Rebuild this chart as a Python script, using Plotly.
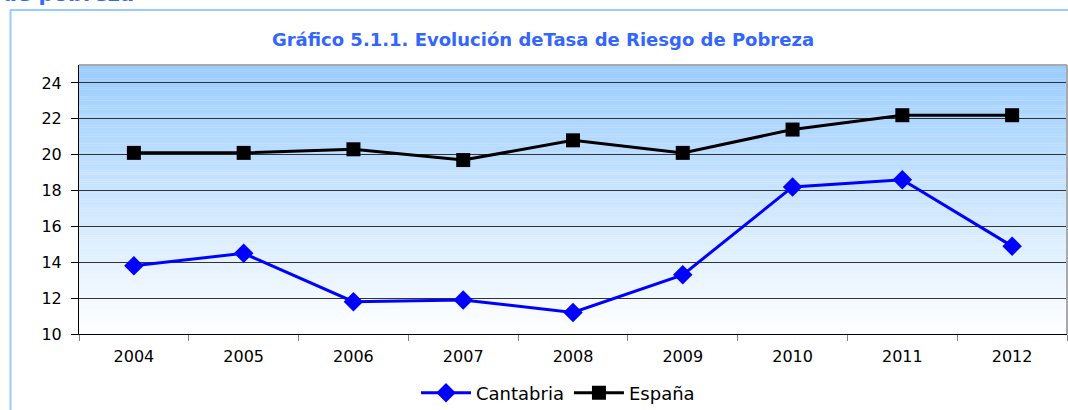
import plotly.graph_objects as go

years = ["2004", "2005", "2006", "2007", "2008", "2009", "2010", "2011", "2012"]
cantabria = [13.8, 14.5, 11.8, 11.9, 11.2, 13.3, 18.2, 18.6, 14.9]
espana = [20.1, 20.1, 20.3, 19.7, 20.8, 20.1, 21.4, 22.2, 22.2]
y_ticks = [10, 12, 14, 16, 18, 20, 22, 24]

W, H = 1068, 410
ML, MR, MT, MB = 79, 1, 65, 76
PW, PH = W - ML - MR, H - MT - MB

def px(x):
    return (x - ML) / PW

def py(y):
    return (H - MB - y) / PH

FONT = "DejaVu Sans"
BLUE_T = "#3366FF"

fig = go.Figure()
fig.add_trace(go.Scatter(
    x=years, y=cantabria, name="Cantabria", mode="lines+markers",
    line=dict(color="#0000FF", width=3),
    marker=dict(symbol="diamond", size=15, color="#0000FF"),
))
fig.add_trace(go.Scatter(
    x=years, y=espana, name="España", mode="lines+markers",
    line=dict(color="#000000", width=3),
    marker=dict(symbol="square", size=14, color="#000000"),
))

shapes = []
# vertical gradient background
N = 120
y0, y1 = 10, 25
top = (153, 204, 255)
for i in range(N):
    a = y0 + (y1 - y0) * i / N
    b = y0 + (y1 - y0) * (i + 1) / N
    t = (i + 0.5) / N  # 0 bottom -> 1 top
    c = tuple(round(255 + (tc - 255) * t) for tc in top)
    shapes.append(dict(type="rect", xref="paper", yref="y", x0=0, x1=1, y0=a, y1=b + 0.01,
                       fillcolor="rgb(%d,%d,%d)" % c, line=dict(width=0), layer="below"))
# gray top/right border of plot
shapes.append(dict(type="line", xref="paper", yref="paper", x0=0, x1=1, y0=1, y1=1,
                   line=dict(color="#AAAAAA", width=2)))
shapes.append(dict(type="line", xref="paper", yref="paper", x0=1, x1=1, y0=0, y1=1,
                   line=dict(color="#AAAAAA", width=2)))
# outer light-blue frame
shapes.append(dict(type="line", xref="paper", yref="paper", x0=px(10), x1=px(1080),
                   y0=py(10), y1=py(10), line=dict(color="#99CCFF", width=2)))
shapes.append(dict(type="line", xref="paper", yref="paper", x0=px(10.5), x1=px(10.5),
                   y0=py(10), y1=py(420), line=dict(color="#99CCFF", width=2)))

fig.update_layout(
    width=W, height=H,
    margin=dict(l=ML, r=MR, t=MT, b=MB),
    paper_bgcolor="white", plot_bgcolor="white",
    shapes=shapes,
    font=dict(family=FONT, size=16, color="#000000"),
    title=dict(text="<b>Gráfico 5.1.1. Evolución deTasa de Riesgo de Pobreza</b>",
               xref="container", x=543 / W, xanchor="center",
               yref="container", y=1 - 40 / H, yanchor="middle",
               font=dict(family=FONT, size=18, color=BLUE_T)),
    showlegend=True,
    legend=dict(orientation="h", x=558 / W, xanchor="center", xref="container",
                y=1 - 393 / H, yref="container", yanchor="middle",
                font=dict(family=FONT, size=18, color="#000000"),
                itemwidth=50, bgcolor="rgba(0,0,0,0)"),
    annotations=[dict(text="<b>de pobreza</b>", xref="paper", yref="paper",
                      x=px(0), y=py(8), xanchor="left", yanchor="bottom",
                      showarrow=False, font=dict(family=FONT, size=21, color=BLUE_T))],
)
fig.update_xaxes(
    type="category", tickson="boundaries", ticks="outside", ticklen=6,
    tickcolor="#808080", showline=True, linecolor="#000000", linewidth=1,
    showgrid=False, tickfont=dict(size=16), range=[-0.5, 8.5],
    ticklabelstandoff=8,
)
fig.update_yaxes(
    range=[10, 25], tickvals=y_ticks, ticks="outside", ticklen=7,
    tickcolor="#000000", showline=True, linecolor="#000000", linewidth=1,
    showgrid=True, gridcolor="#333333", gridwidth=1, zeroline=False,
    tickfont=dict(size=16), ticklabelstandoff=6,
)

fig.write_html(
    "out.html",
    config={"displayModeBar": False},
    post_script="document.body.style.margin='0';document.body.style.overflow='hidden';",
)
